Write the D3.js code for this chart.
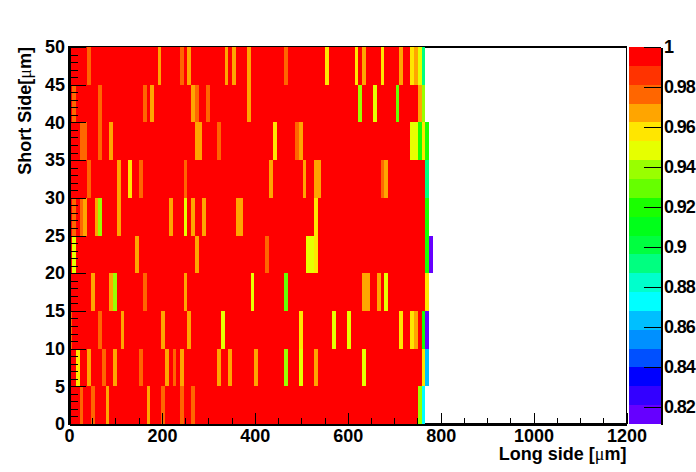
<!DOCTYPE html>
<html><head><meta charset="utf-8">
<style>
html,body{margin:0;padding:0;background:#fff;overflow:hidden}
svg{display:block}
text{font-family:"Liberation Sans",Arial,sans-serif;font-weight:bold;fill:#000}
.axis path,.axis line{stroke:#000;shape-rendering:crispEdges}
.axis path{stroke-width:2}
.axis line{stroke-width:1}
</style>
<script src="https://cdn.jsdelivr.net/npm/d3@7"></script>
</head><body>
<script>
// Long-side bin width in micrometres, short-side row height in micrometres
const binWidth = 8;
const rowHeight = 5;
const baseValue = 0.995;
const nominalBins = 96;

// Values of the cells that are not at the base value: [bin index, value]. Row names give the short-side start.
const row0  = [[3,.976],[6,.976],[10,.967],[21,.967],[25,.976],[30,.976],[33,.976],[94,.939],[95,.877]];
const row5  = [[2,.958],[5,.967],[9,.976],[12,.967],[19,.976],[26,.967],[28,.976],[30,.967],[40,.967],[43,.967],[50,.967],[58,.939],[62,.948],[66,.967],[79,.948],[95,.958],[96,.868]];
const row10 = [[0,.976],[8,.976],[14,.967],[25,.967],[32,.967],[41,.948],[62,.958],[71,.948],[75,.948],[89,.958],[92,.958],[93,.967],[95,.92],[96,.816]];
const row15 = [[6,.967],[11,.967],[12,.939],[20,.976],[31,.967],[49,.948],[58,.929],[79,.967],[80,.967],[83,.967],[85,.948],[96,.958]];
const row20 = [[1,.948],[18,.967],[34,.967],[53,.976],[64,.948],[65,.948],[66,.958],[96,.92],[97,.816]];
const row25 = [[1,.976],[3,.976],[4,.967],[7,.967],[8,.939],[13,.967],[27,.967],[31,.948],[33,.967],[36,.967],[45,.967],[46,.967],[66,.958],[96,.92]];
const row30 = [[5,.976],[13,.967],[16,.958],[19,.976],[31,.976],[54,.967],[63,.967],[66,.967],[67,.967],[84,.976],[85,.967],[96,.892]];
const row35 = [[3,.976],[4,.976],[8,.976],[11,.967],[34,.967],[35,.967],[40,.976],[55,.958],[61,.976],[62,.967],[92,.948],[93,.948],[94,.92],[95,.958],[96,.92]];
const row40 = [[1,.976],[8,.976],[20,.976],[22,.967],[33,.967],[34,.976],[37,.976],[48,.967],[78,.939],[82,.948],[88,.929],[94,.967],[95,.939]];
const row45 = [[5,.976],[24,.967],[30,.976],[32,.967],[42,.967],[44,.967],[48,.967],[58,.976],[69,.958],[77,.958],[79,.967],[84,.958],[89,.967],[92,.958],[93,.967],[94,.948],[95,.892]];
const rowStarts = [0,5,10,15,20,25,30,35,40,45];
const rowCells = [row0,row5,row10,row15,row20,row25,row30,row35,row40,row45];

const paletteColors = ["#6600ff","#3300ff","#0000ff","#0050ff","#0090ff","#00bfff","#00ffff","#00ffcc","#00ff80","#00ff40",
  "#00ff1a","#1aff00","#66ff00","#99ff00","#e6ff00","#ffe600","#ffa500","#ff6600","#ff3300","#ff0000"];
const paletteMin = 0.8115, paletteMax = 1;
const xMajor = [0,200,400,600,800,1000,1200];
const xMinor = [50,100,150,250,300,350,450,500,550,650,700,750,850,900,950,1050,1100,1150];
const yMajor = [0,5,10,15,20,25,30,35,40,45,50];
const yMinor = d3.range(0,51).filter(d=>d%5!==0);
const zMajor = [0.82,0.84,0.86,0.88,0.9,0.92,0.94,0.96,0.98,1];

const W=696,H=472, L=69, R=626.5, T=47, B=424, ZL=629, ZR=661;
const svg=d3.select("body").append("svg").attr("width",W).attr("height",H);
const x=d3.scaleLinear().domain([0,1200]).range([L,R]);
const y=d3.scaleLinear().domain([0,50]).range([B,T]);
const z=d3.scaleLinear().domain([paletteMin,paletteMax]).range([B,T]);
const color=d3.scaleQuantize().domain([paletteMin,paletteMax]).range(paletteColors);

// frame
svg.append("rect").attr("x",L).attr("y",T).attr("width",R-L).attr("height",B-T)
  .attr("fill","#fff").attr("stroke","#000").attr("stroke-width",1.5).attr("shape-rendering","crispEdges");

// heat cells
const cells=[];
rowStarts.forEach((s,i)=>{
  const m=new Map(rowCells[i]);
  const n=Math.max(nominalBins,d3.max(rowCells[i],d=>d[0])+1);
  for(let b=0;b<n;b++) cells.push({b,s,v:m.has(b)?m.get(b):baseValue});
});
svg.append("g").selectAll("rect").data(cells).join("rect")
  .attr("x",d=>Math.floor(x(d.b*binWidth)))
  .attr("width",d=>Math.floor(x((d.b+1)*binWidth))-Math.floor(x(d.b*binWidth)))
  .attr("y",d=>y(d.s+rowHeight))
  .attr("height",d=>y(d.s)-y(d.s+rowHeight))
  .attr("fill",d=>color(d.v))
  .attr("shape-rendering","crispEdges");

// colour bar
const step=(paletteMax-paletteMin)/paletteColors.length;
svg.append("g").selectAll("rect").data(paletteColors).join("rect")
  .attr("x",ZL).attr("width",ZR-ZL)
  .attr("y",(d,i)=>z(paletteMin+(i+1)*step))
  .attr("height",(d,i)=>z(paletteMin+i*step)-z(paletteMin+(i+1)*step))
  .attr("fill",d=>d).attr("shape-rendering","crispEdges");

const fs=18;
function axis(g,a){
  const s=svg.append("g").attr("class","axis").attr("transform",g).call(a);
  s.selectAll("text").style("font-size",fs+"px").style("font-family",'"Liberation Sans"').style("font-weight","bold");
  return s;
}
// minor ticks
axis(`translate(0,${B})`,d3.axisBottom(x).tickValues(xMinor).tickSize(-6).tickSizeOuter(0).tickFormat(""));
axis(`translate(${L},0)`,d3.axisLeft(y).tickValues(yMinor).tickSize(-8.5).tickSizeOuter(0).tickFormat(""));
// major ticks with labels
const ax=axis(`translate(0,${B})`,d3.axisBottom(x).tickValues(xMajor).tickSize(-11).tickSizeOuter(0).tickFormat(d3.format("d")));
ax.selectAll("text").attr("y",5).attr("dy","0.71em");
const ay=axis(`translate(${L},0)`,d3.axisLeft(y).tickValues(yMajor).tickSize(-17).tickSizeOuter(0).tickFormat(d3.format("d")));
ay.selectAll("text").attr("x",-4).attr("dy","0.32em");
const az=axis(`translate(${ZR},0)`,d3.axisRight(z).tickValues(zMajor).tickSize(-17).tickSizeOuter(0).tickFormat(d=>String(d)));
az.selectAll("text").attr("x",3).attr("dy","0.32em").style("letter-spacing","-1.1px");

// titles
const muFont='"Liberation Serif"';
const xt=svg.append("text").attr("x",R).attr("y",460).attr("text-anchor","end").style("font-size",fs+"px");
xt.append("tspan").text("Long side [");
xt.append("tspan").text("μ").style("font-family",muFont).style("font-weight","normal");
xt.append("tspan").text("m]");
const yt=svg.append("text").attr("transform",`translate(30.5,${T}) rotate(-90)`).attr("text-anchor","end").style("font-size",fs+"px");
yt.append("tspan").text("Short Side[");
yt.append("tspan").text("μ").style("font-family",muFont).style("font-weight","normal");
yt.append("tspan").text("m]");
</script>
</body></html>
